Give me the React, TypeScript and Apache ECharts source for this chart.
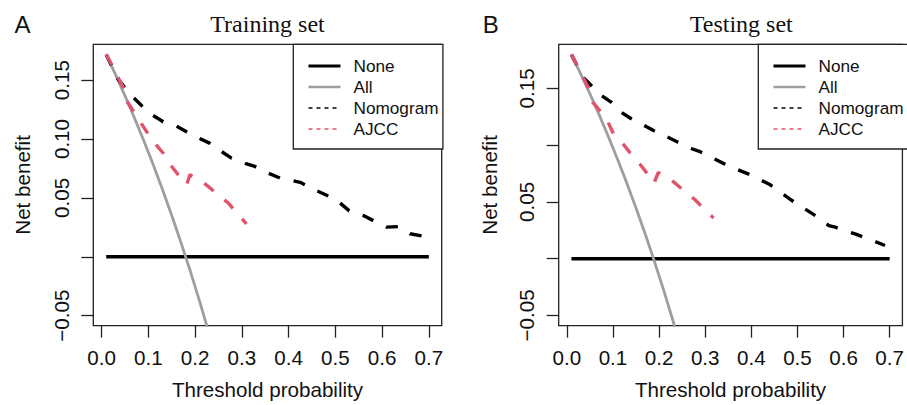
import React, { useEffect, useRef } from "react";
import * as echarts from "echarts";

// ---- Axis ticks / labels ----
const xTicks = [0, 0.1, 0.2, 0.3, 0.4, 0.5, 0.6, 0.7];
const yTicks = [-0.05, 0, 0.05, 0.1, 0.15];
const yLabelsTrain = [-0.05, 0.05, 0.1, 0.15];
const yLabelsTest = [-0.05, 0.05, 0.15];
const legendNames = ["None", "All", "Nomogram", "AJCC"];
const panelTitles = ["Training set", "Testing set"];
const panelLetters = ["A", "B"];

// ---- Training set (A) ----
const trainNone: [number, number][] = [[0.01, 0], [0.7, 0]];
const trainAll: [number, number][] = [
  [0.01, 0.1717], [0.03, 0.1546], [0.05, 0.1368], [0.07, 0.1183], [0.09, 0.0989],
  [0.11, 0.0787], [0.13, 0.0575], [0.15, 0.0353], [0.17, 0.012], [0.19, -0.0123],
  [0.21, -0.038], [0.23, -0.065],
];
const trainNomogram: [number, number][] = [
  [0.01, 0.1717], [0.035, 0.151], [0.049, 0.1441], [0.067, 0.1357], [0.085, 0.1286],
  [0.11, 0.12], [0.132, 0.1146], [0.16, 0.111], [0.182, 0.1062], [0.21, 0.1005],
  [0.232, 0.0963], [0.257, 0.0893], [0.278, 0.0837], [0.307, 0.0794], [0.328, 0.0767],
  [0.357, 0.071], [0.382, 0.0668], [0.425, 0.0632], [0.46, 0.0561], [0.5, 0.049],
  [0.53, 0.039], [0.56, 0.035], [0.585, 0.03], [0.61, 0.0252], [0.636, 0.0257],
  [0.66, 0.0196], [0.7, 0.0165],
];
const trainAJCC: [number, number][] = [
  [0.01, 0.172], [0.021, 0.1637], [0.035, 0.1525], [0.046, 0.1441], [0.053, 0.1328],
  [0.067, 0.1244], [0.085, 0.1132], [0.099, 0.1047], [0.114, 0.0963], [0.132, 0.0879],
  [0.15, 0.0767], [0.164, 0.0696], [0.182, 0.0611], [0.189, 0.0696], [0.21, 0.0654],
  [0.228, 0.0598], [0.253, 0.0514], [0.271, 0.0457], [0.2925, 0.0358], [0.31, 0.028],
];

// ---- Testing set (B) ----
const testNone: [number, number][] = [[0.01, 0], [0.7, 0]];
const testAll: [number, number][] = [
  [0.01, 0.1798], [0.03, 0.1629], [0.05, 0.1453], [0.07, 0.1269], [0.09, 0.1077],
  [0.11, 0.0876], [0.13, 0.0667], [0.15, 0.0447], [0.17, 0.0217], [0.19, -0.0025],
  [0.21, -0.0278], [0.23, -0.0545], [0.25, -0.0827],
];
const testNomogram: [number, number][] = [
  [0.01, 0.1798], [0.035, 0.16], [0.053, 0.1526], [0.0745, 0.1439], [0.096, 0.138],
  [0.117, 0.1293], [0.139, 0.1235], [0.167, 0.1176], [0.189, 0.1127], [0.217, 0.1074],
  [0.239, 0.103], [0.268, 0.0972], [0.289, 0.0943], [0.318, 0.0884], [0.339, 0.084],
  [0.368, 0.0788], [0.393, 0.0747], [0.439, 0.0656], [0.489, 0.051], [0.539, 0.0379],
  [0.568, 0.0291], [0.582, 0.0277], [0.625, 0.0218], [0.69, 0.0116],
];
const testAJCC: [number, number][] = [
  [0.01, 0.1798], [0.035, 0.16], [0.046, 0.1512], [0.056, 0.138], [0.071, 0.1307],
  [0.089, 0.1206], [0.099, 0.1118], [0.121, 0.1016], [0.135, 0.0943], [0.157, 0.084],
  [0.171, 0.0768], [0.189, 0.0665], [0.198, 0.0759], [0.217, 0.0724], [0.235, 0.0665],
  [0.26, 0.0578], [0.278, 0.0519], [0.303, 0.0417], [0.318, 0.0359],
];

const SANS = "Liberation Sans, Arial, sans-serif";
const SERIF = "Liberation Serif, Times New Roman, serif";
const BOX = "#222";
const PINK = "#DF536B";
const GRAY = "#9E9E9E";
const DASH = [12, 14];

const fmt = (v: number) => (v < 0 ? "\u2212" + Math.abs(v).toFixed(2) : v.toFixed(2));

export default function App() {
  const ref = useRef<HTMLDivElement>(null);
  useEffect(() => {
    if (!ref.current) return;
    const chart = echarts.init(ref.current, undefined, { renderer: "svg" });

    const grids = [
      { left: 93.3, top: 44.3, width: 348.4, height: 283 },
      { left: 558.7, top: 44.3, width: 347, height: 283 },
    ];
    const yRanges = [
      { min: -0.0584, max: 0.1804 },
      { min: -0.059, max: 0.1889 },
    ];
    const yLabelSets = [yLabelsTrain, yLabelsTest];
    const yNameGaps = [60, 58.7];
    const yLabelMargins = [21, 21.7];

    const xAxis = grids.map((_, i) => ({
      type: "value",
      gridIndex: i,
      min: -0.0176,
      max: 0.7276,
      axisLine: { show: false, onZero: false },
      splitLine: { show: false },
      axisTick: { show: true, length: 12, customValues: xTicks, lineStyle: { color: BOX, width: 1.3 } },
      axisLabel: {
        customValues: xTicks,
        margin: 21,
        fontFamily: SANS,
        fontSize: 20.6,
        color: "#111",
        formatter: (v: number) => v.toFixed(1),
      },
      name: "Threshold probability",
      nameLocation: "middle",
      nameGap: 53.4,
      nameTextStyle: { fontFamily: SANS, fontSize: 20.6, color: "#111" },
    }));

    const yAxis = grids.map((_, i) => ({
      type: "value",
      gridIndex: i,
      min: yRanges[i].min,
      max: yRanges[i].max,
      axisLine: { show: false, onZero: false },
      splitLine: { show: false },
      axisTick: { show: true, length: 12, customValues: yTicks, lineStyle: { color: BOX, width: 1.3 } },
      axisLabel: {
        customValues: yLabelSets[i],
        rotate: 90,
        margin: yLabelMargins[i],
        fontFamily: SANS,
        fontSize: 20.6,
        color: "#111",
        formatter: fmt,
      },
      name: "Net benefit",
      nameLocation: "middle",
      nameGap: yNameGaps[i],
      nameTextStyle: { fontFamily: SANS, fontSize: 20.6, color: "#111" },
    }));

    const panels = [
      { none: trainNone, all: trainAll, nomo: trainNomogram, ajcc: trainAJCC },
      { none: testNone, all: testAll, nomo: testNomogram, ajcc: testAJCC },
    ];
    const series: any[] = [];
    panels.forEach((p, i) => {
      const base = { type: "line", xAxisIndex: i, yAxisIndex: i, symbol: "none", clip: true, silent: true };
      series.push({ ...base, name: "None", data: p.none, lineStyle: { color: "#000", width: 3.5 }, itemStyle: { color: "#000" } });
      series.push({ ...base, name: "All", data: p.all, lineStyle: { color: GRAY, width: 2.8 }, itemStyle: { color: GRAY } });
      series.push({ ...base, name: "Nomogram", data: p.nomo, lineStyle: { color: "#000", width: 3.4, type: DASH, cap: "butt" }, itemStyle: { color: "#000" } });
      series.push({ ...base, name: "AJCC", data: p.ajcc, lineStyle: { color: PINK, width: 3.4, type: DASH, cap: "butt" }, itemStyle: { color: PINK } });
    });

    const legendItemStyles: any = {
      None: { color: "#000", width: 3, type: "solid" },
      All: { color: GRAY, width: 2.6, type: "solid" },
      Nomogram: { color: "#000", width: 1.3, type: [4, 4] },
      AJCC: { color: PINK, width: 1.3, type: [4, 4] },
    };
    const legendLefts = [293.3, 758.3];
    const legend = legendLefts.map((l) => ({
      left: l,
      top: 44.3,
      orient: "vertical",
      padding: [13.2, 4.4, 11.5, 13.7],
      itemWidth: 32,
      itemHeight: 17,
      itemGap: 4,
      borderColor: BOX,
      borderWidth: 1.3,
      backgroundColor: "#fff",
      selectedMode: false,
      textStyle: { fontFamily: SANS, fontSize: 17.2, color: "#111", lineHeight: 17, padding: [0, 0, 0, 8] },
      data: legendNames.map((n) => ({
        name: n,
        lineStyle: legendItemStyles[n],
        itemStyle: { color: "rgba(0,0,0,0)", opacity: 0, borderWidth: 0 },
      })),
    }));

    const titleX = [267.5, 741.3];
    const letterX = [22.5, 490.8];
    const graphic: any[] = [];
    [0, 1].forEach((i) => {
      graphic.push({
        type: "text",
        style: {
          text: panelTitles[i], x: titleX[i], y: 23.6,
          font: `24px ${SERIF}`, fill: "#111",
          textAlign: "center", textVerticalAlign: "middle", align: "center", verticalAlign: "middle",
        },
      });
      graphic.push({
        type: "text",
        style: {
          text: panelLetters[i], x: letterX[i], y: 24,
          font: `24px ${SANS}`, fill: "#111",
          textAlign: "center", textVerticalAlign: "middle", align: "center", verticalAlign: "middle",
        },
      });
    });

    chart.setOption({
      animation: false,
      backgroundColor: "#fff",
      grid: grids.map((g) => ({ ...g, show: true, borderColor: BOX, borderWidth: 1.3, backgroundColor: "transparent", containLabel: false })),
      xAxis,
      yAxis,
      legend,
      series,
      graphic,
    });
    return () => chart.dispose();
  }, []);
  return <div ref={ref} style={{ position: "fixed", left: 0, top: 0, width: 907, height: 405, background: "#fff" }} />;
}
